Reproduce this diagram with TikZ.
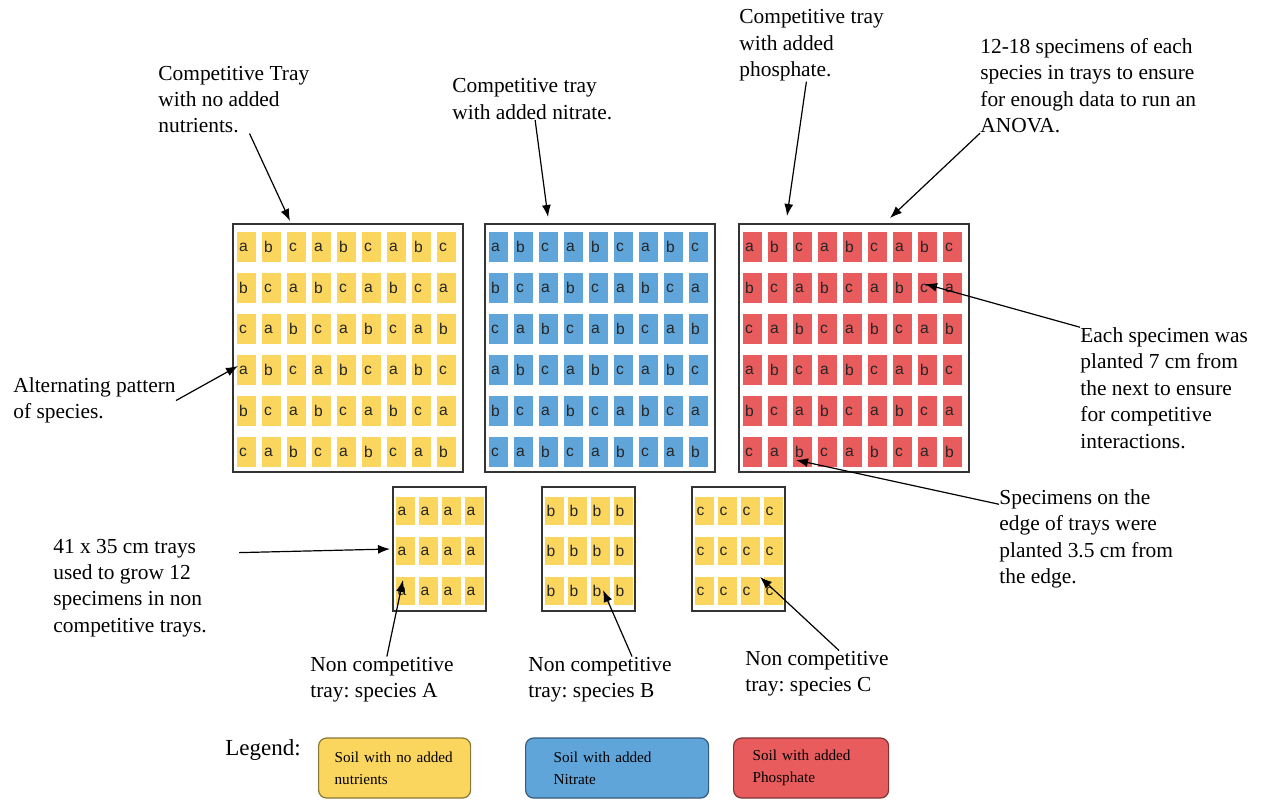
\documentclass[tikz,border=0pt]{standalone}
\usepackage{fontspec}
\setmainfont{Liberation Serif}
\newfontfamily\cellfont{Liberation Sans}
\usetikzlibrary{arrows.meta}
\definecolor{soilY}{RGB}{250,214,94}
\definecolor{soilB}{RGB}{96,165,218}
\definecolor{soilR}{RGB}{232,92,94}
\newcommand\notefont{\fontsize{10.7}{13.2}\selectfont}
\newcommand\keyfont{\fontsize{7.6}{11}\selectfont}
\frenchspacing

\begin{document}
\begin{tikzpicture}[x=0.5pt,y=-0.5pt,>={Latex[length=6pt,width=4.5pt]},
    link/.style={line width=0.6pt},
    note/.style={align=left,inner sep=0pt,anchor=west,font=\notefont},
    tray/.style={draw=black!80,line width=0.7pt,minimum width=115pt,minimum height=124pt,inner sep=0pt},
    pot/.style={draw=black!80,line width=0.7pt,minimum width=46.5pt,minimum height=62pt,inner sep=0pt},
    cell/.style={fill=#1,text width=7.5pt,inner xsep=1pt,inner ysep=0pt,minimum height=15pt,align=left,
        text=black!85,font=\cellfont\fontsize{7.8}{8}\selectfont},
    key/.style={draw=#1!55!black,fill=#1,rounded corners=4pt,line width=0.6pt,minimum height=30pt,
        align=left,anchor=west,font=\keyfont}]
    \useasboundingbox (0,0) rectangle (1261,800);

    % competitive trays
    \foreach \t/\l/\f in {yel/233/soilY,blu/485/soilB,red/739/soilR}{
        \node[tray] (\t) at (\l+115,348) {};
        \foreach \r in {0,...,5}
            \foreach \c in {0,...,8}{
                \pgfmathtruncatemacro\k{mod(\r+\c,3)}
                \node[cell=\f] (\t-\r-\c) at (\l+13.5+25*\c,247+41*\r) {\ifcase\k a\or b\or c\fi};
            }
    }

    % non competitive trays
    \foreach \t/\l/\s in {potA/393/a,potB/542/b,potC/692/c}{
        \node[pot] (\t) at (\l+46.5,549) {};
        \foreach \r in {0,1,2}
            \foreach \c in {0,...,3}
                \node[cell=soilY,minimum height=14pt] (\t-\r-\c) at (\l+12+23*\c,511+40*\r) {\s};
    }

    \node[note] (nut) at (158,99.5) {Competitive Tray\\with no added\\nutrients.};
    \node[note] (nit) at (452,99) {Competitive tray\\with added nitrate.};
    \node[note] (pho) at (739,45.5) {Competitive tray\\with added\\phosphate.};
    \node[note] (reps) at (980,85.5) {12-18 specimens of each\\species in trays to ensure\\for enough data to run an\\ANOVA.};
    \node[note] (alt) at (13,400.5) {Alternating pattern\\of species.};
    \node[note] (gap) at (1080,388) {Each specimen was\\planted 7 cm from\\the next to ensure\\for competitive\\interactions.};
    \node[note] (edge) at (999,539) {Specimens on the\\edge of trays were\\planted 3.5 cm from\\the edge.};
    \node[note] (size) at (53,588) {41 x 35 cm trays\\used to grow 12\\specimens in non\\competitive trays.};
    \node[note] (ncA) at (310,679.5) {Non competitive\\tray: species A};
    \node[note] (ncB) at (528,679.5) {Non competitive\\tray: species B};
    \node[note] (ncC) at (745,673.5) {Non competitive\\tray: species C};

    % arrow tips
    \coordinate (tipNut) at (290,221);
    \coordinate (tipNit) at (548,217);
    \coordinate (tipPho) at (787,216);
    \coordinate (tipReps) at (890,218);
    \coordinate (tipAlt) at (238,366);
    \coordinate (tipGap) at (925,284);
    \coordinate (tipEdge) at (796,460);
    \coordinate (tipSize) at (390,549);
    \coordinate (tipA) at (403,580);
    \coordinate (tipB) at (603,590);
    \coordinate (tipC) at (760,577);

    \foreach \u/\v in {nut/tipNut,nit/tipNit,pho/tipPho,reps.south west/tipReps,alt.east/tipAlt,
        gap.north west/tipGap,ncA/tipA}
        \draw[->,link] (\u) -- (\v);
    \draw[->,link] ([yshift=-7.5pt]edge.north west) -- (tipEdge);
    \draw[->,link] ([shift={(16pt,-7pt)}]size.north east) -- (tipSize);
    \draw[->,link] ([xshift=16pt]ncB.north) -- (tipB);
    \draw[->,link] ([xshift=11pt]ncC.north) -- (tipC);

    % legend
    \node[anchor=west,inner sep=0pt,font=\fontsize{11.5}{13}\selectfont] (leg) at (225,750) {Legend:};
    \node[key=soilY,text width=60pt,inner xsep=8pt] (keyY) at (318,768) {Soil with no added\\nutrients};
    \node[key=soilB,text width=63.5pt,inner xsep=14pt] (keyB) at (525,768) {Soil with added\\Nitrate};
    \node[key=soilR,text width=58.5pt,inner xsep=9.5pt] (keyR) at (733,768) {Soil with added\\Phosphate};
\end{tikzpicture}
\end{document}
